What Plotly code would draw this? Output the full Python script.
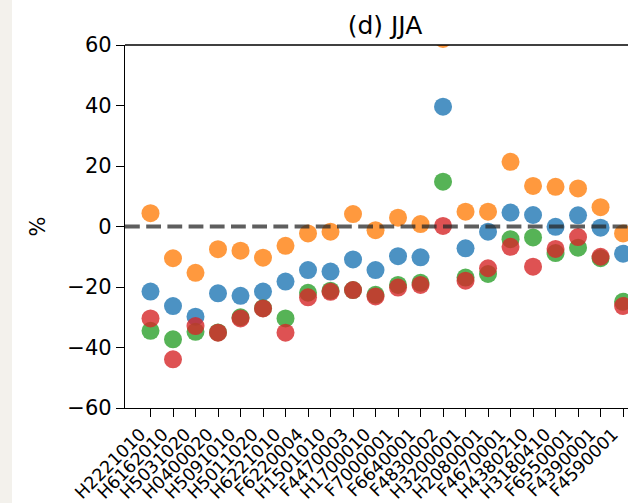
import plotly.graph_objects as go

# Station identifiers along the x axis
stations = [
    "H2221010", "H6162010", "H5031020", "H0400020", "H5091010", "H5011020",
    "H6221010", "F6220004", "H1501010", "F4470003", "H1700010", "F7000001",
    "F6640001", "F4830002", "H3200001", "H2080001", "F4670001", "H4380210",
    "H3180410", "F6550001", "F4390001", "F4590001",
]

# Relative change (%) per station, one list per series
series_blue = [-21.5, -26.3, -29.8, -22.1, -22.9, -21.5, -18.2, -14.4, -14.9, -10.9, -14.4,
               -9.8, -10.2, 39.6, -7.2, -1.7, 4.6, 3.8, -0.1, 3.7, -0.4, -9.0]
series_orange = [4.4, -10.5, -15.3, -7.5, -8.0, -10.3, -6.4, -2.3, -1.7, 4.1, -1.2,
                 2.9, 0.8, 62.0, 4.9, 4.9, 21.4, 13.4, 13.1, 12.6, 6.4, -2.3]
series_green = [-34.5, -37.3, -34.8, -35.0, -30.0, -27.0, -30.4, -21.9, -21.2, -21.0, -22.6,
                -19.3, -18.6, 14.8, -16.9, -15.7, -4.2, -3.6, -8.8, -7.0, -10.5, -24.9]
series_red = [-30.4, -43.9, -32.9, -35.1, -30.4, -27.1, -35.1, -23.4, -21.6, -21.0, -23.1,
              -20.2, -19.3, 0.2, -17.9, -13.8, -6.7, -13.3, -7.4, -3.5, -10.0, -26.3]

y_ticks = [-60, -40, -20, 0, 20, 40, 60]
y_tick_text = [("\u2212" + str(-v)) if v < 0 else str(v) for v in y_ticks]

colors = {
    "blue": "rgba(31,119,180,0.8)",
    "orange": "rgba(255,127,14,0.8)",
    "green": "rgba(44,160,44,0.8)",
    "red": "rgba(214,39,40,0.8)",
}

fig = go.Figure()
for key, vals in [("blue", series_blue), ("orange", series_orange),
                  ("green", series_green), ("red", series_red)]:
    fig.add_trace(go.Scatter(
        x=stations, y=vals, mode="markers", cliponaxis=True,
        marker=dict(size=18, color=colors[key], line=dict(width=0)),
        showlegend=False, hoverinfo="skip",
    ))

FONT = "DejaVu Sans, Arial, sans-serif"
W, H = 628, 503
ML, MR, MT, MB = 125, 0, 45, 95
plot_w = W - ML - MR
plot_h = H - MT - MB

fig.update_layout(
    width=W, height=H,
    margin=dict(l=ML, r=MR, t=MT, b=MB, pad=0, autoexpand=False),
    paper_bgcolor="white", plot_bgcolor="white",
    font=dict(family=FONT, color="black"),
    title=dict(text="(d) JJA", x=(385 - ML) / plot_w, xref="paper", xanchor="center",
               y=1 - 25 / H, yanchor="middle", font=dict(size=25, family=FONT)),
    showlegend=False,
)

fig.update_xaxes(
    type="category", range=[-1.133, 21.22],
    tickmode="array", tickvals=stations, ticktext=stations,
    showline=True, linecolor="black", linewidth=1.3, mirror=False,
    ticks="outside", ticklen=8, tickwidth=1.3, tickcolor="black",
    tickangle=-45, tickfont=dict(size=17.5, family=FONT),
    ticklabelstandoff=0, ticklabelshift=-10, automargin=False,
    showgrid=False, zeroline=False,
)
fig.update_yaxes(
    range=[-60, 60], tickvals=y_ticks, ticktext=y_tick_text,
    showline=True, linecolor="black", linewidth=1.3, mirror=False,
    ticks="outside", ticklen=8, tickwidth=1.3, tickcolor="black",
    tickfont=dict(size=21, family=FONT), automargin=False,
    showgrid=False, zeroline=False,
)

# Top frame line
fig.add_shape(type="line", xref="paper", yref="paper", x0=0, x1=1, y0=1, y1=1,
              line=dict(color="black", width=1.3), layer="above")

# Zero reference line drawn over the markers
fig.add_shape(type="line", xref="paper", x0=0, x1=1, yref="y", y0=0, y1=0,
              line=dict(color="rgba(40,40,40,0.75)", width=4, dash="14.8px,6.4px"),
              layer="above")

# Narrow tinted strip along the page's left edge
fig.add_shape(type="rect", xref="paper", yref="paper",
              x0=-ML / plot_w, x1=(12 - ML) / plot_w, y0=-MB / plot_h, y1=1 + MT / plot_h,
              fillcolor="#f3f1ec", line=dict(width=0), layer="below")

# Y-axis label
fig.add_annotation(text="%", xref="paper", yref="paper",
                   x=(37 - ML) / plot_w, y=0.5, textangle=-90, showarrow=False,
                   font=dict(size=21, family=FONT), xanchor="center", yanchor="middle")

fig.write_html("out.html")
